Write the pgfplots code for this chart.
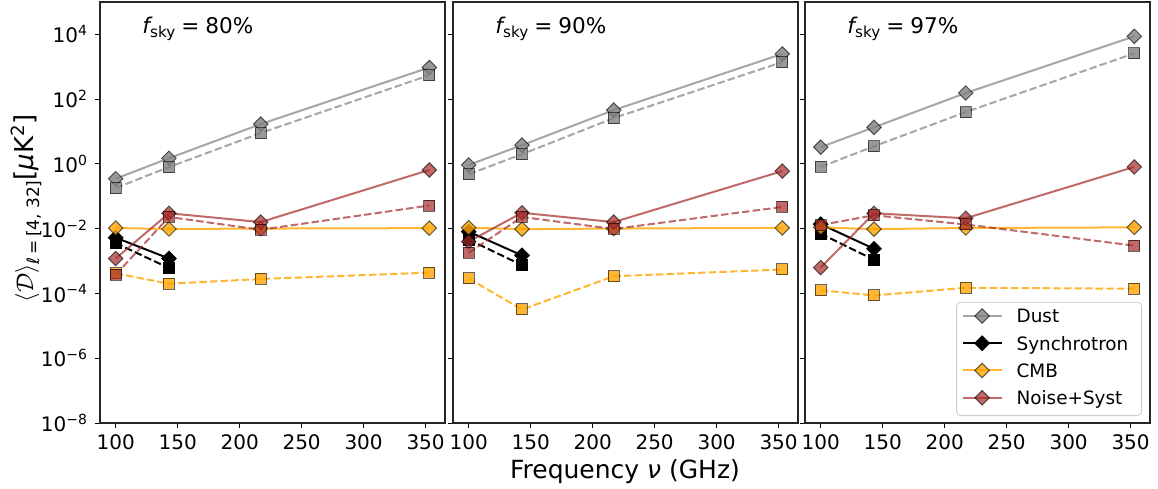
\documentclass[border=0pt]{standalone}
\usepackage{pgfplots}
\pgfplotsset{compat=1.18}
\usepackage{fontspec}
\setmainfont{DejaVu Sans}
\usetikzlibrary{plotmarks}
\definecolor{dustc}{HTML}{808080}
\definecolor{cmbc}{HTML}{FFA500}
\definecolor{noisec}{HTML}{A52A2A}
\pgfplotsset{
  mypanel/.style={
    scale only axis, width=172.5pt, height=210.5pt,
    xmin=87.35, xmax=365.65, ymin=1e-8, ymax=1e5,
    xtick={100,150,200,250,300,350},
    ytick={1e-8,1e-6,1e-4,1e-2,1,1e2,1e4},
    minor ytick={}, minor xtick={},
    tick pos=left, tick align=outside,
    major tick length=2.5pt,
    tick style={black, line width=0.5pt},
    axis line style={black!85, line width=0.6pt},
    tick label style={font=\fontsize{10}{12}\selectfont},
    clip=false,
  },
  dustD/.style={draw=dustc, draw opacity=0.7, line width=1pt, mark=square*, mark size=2.56pt,
    mark options={rotate=45, solid, fill=dustc, fill opacity=0.8, draw=black, draw opacity=0.6, line width=0.5pt}},
  dustS/.style={draw=dustc, draw opacity=0.7, line width=1pt, dash pattern=on 3.7pt off 1.6pt, mark=square*, mark size=2.75pt,
    mark options={solid, fill=dustc, fill opacity=0.8, draw=black, draw opacity=0.6, line width=0.5pt}},
  syncD/.style={draw=black, line width=1pt, mark=square*, mark size=2.56pt,
    mark options={rotate=45, solid, fill=black, draw=black, line width=0.5pt}},
  syncS/.style={draw=black, line width=1pt, dash pattern=on 3.7pt off 1.6pt, mark=square*, mark size=2.75pt,
    mark options={solid, fill=black, draw=black, line width=0.5pt}},
  cmbD/.style={draw=cmbc, draw opacity=0.8, line width=1pt, mark=square*, mark size=2.56pt,
    mark options={rotate=45, solid, fill=cmbc, fill opacity=0.8, draw=black, draw opacity=0.6, line width=0.5pt}},
  cmbS/.style={draw=cmbc, draw opacity=0.8, line width=1pt, dash pattern=on 3.7pt off 1.6pt, mark=square*, mark size=2.75pt,
    mark options={solid, fill=cmbc, fill opacity=0.8, draw=black, draw opacity=0.6, line width=0.5pt}},
  noiseD/.style={draw=noisec, draw opacity=0.7, line width=1pt, mark=square*, mark size=2.56pt,
    mark options={rotate=45, solid, fill=noisec, fill opacity=0.7, draw=black, draw opacity=0.6, line width=0.5pt}},
  noiseS/.style={draw=noisec, draw opacity=0.7, line width=1pt, dash pattern=on 3.7pt off 1.6pt, mark=square*, mark size=2.75pt,
    mark options={solid, fill=noisec, fill opacity=0.7, draw=black, draw opacity=0.6, line width=0.5pt}},
}
\newcommand{\fsky}[1]{\node[anchor=base west, inner sep=0pt, font=\fontsize{10.8}{13}\selectfont] at (rel axis cs:0.122,0.926)
  {{\itshape f}\raisebox{-2.3pt}{\fontsize{7.6}{9}\selectfont sky}\hspace{3pt}=\hspace{3pt}#1\%};}
\begin{document}
\begin{tikzpicture}
\path[use as bounding box] (0pt,0pt) rectangle (579pt,-244pt);

% ---------- Panel 1: fsky = 80% ----------
\begin{axis}[ymode=log, mypanel, /pgf/number format/assume math mode=true,
  at={(50pt,-211.5pt)}, anchor=south west,
  yticklabels={10\textsuperscript{−8},10\textsuperscript{−6},10\textsuperscript{−4},10\textsuperscript{−2},10\textsuperscript{0},10\textsuperscript{2},10\textsuperscript{4}}]
\addplot[dustD] coordinates {(100,0.35) (143,1.5) (217,17) (353,950)};
\addplot[dustS] coordinates {(100,0.18) (143,0.8) (217,9) (353,550)};
\addplot[syncD] coordinates {(100,5.3e-3) (143,1.2e-3)};
\addplot[syncS] coordinates {(100,3.6e-3) (143,6.1e-4)};
\addplot[cmbD] coordinates {(100,0.0105) (143,0.0098) (217,0.0101) (353,0.0104)};
\addplot[cmbS] coordinates {(100,4.2e-4) (143,2.0e-4) (217,2.8e-4) (353,4.4e-4)};
\addplot[noiseD] coordinates {(100,1.2e-3) (143,0.030) (217,0.016) (353,0.65)};
\addplot[noiseS] coordinates {(100,3.8e-4) (143,0.023) (217,0.0093) (353,0.052)};
\fsky{80}
\end{axis}

% ---------- Panel 2: fsky = 90% ----------
\begin{axis}[ymode=log, mypanel, /pgf/number format/assume math mode=true,
  at={(226.5pt,-211.5pt)}, anchor=south west, yticklabels={}]
\addplot[dustD] coordinates {(100,0.93) (143,3.8) (217,46) (353,2500)};
\addplot[dustS] coordinates {(100,0.48) (143,2.0) (217,26) (353,1400)};
\addplot[syncD] coordinates {(100,8.1e-3) (143,1.5e-3)};
\addplot[syncS] coordinates {(100,4.6e-3) (143,7.5e-4)};
\addplot[cmbD] coordinates {(100,0.0107) (143,0.0097) (217,0.0101) (353,0.0106)};
\addplot[cmbS] coordinates {(100,2.9e-4) (143,3.2e-5) (217,3.4e-4) (353,5.5e-4)};
\addplot[noiseD] coordinates {(100,4.0e-3) (143,0.031) (217,0.016) (353,0.60)};
\addplot[noiseS] coordinates {(100,1.8e-3) (143,0.023) (217,0.0098) (353,0.047)};
\fsky{90}
\end{axis}

% ---------- Panel 3: fsky = 97% ----------
\begin{axis}[ymode=log, mypanel, /pgf/number format/assume math mode=true,
  at={(402.5pt,-211.5pt)}, anchor=south west, yticklabels={},
  legend cell align=left,
  legend style={at={(1,0)}, anchor=south east, xshift=-4pt, yshift=3.5pt,
    draw=black!20, rounded corners=2pt, fill=white,
    inner xsep=2.5pt, inner ysep=3.25pt, row sep=4.3pt, column sep=0pt,
    font=\fontsize{9.2}{11}\selectfont,
    nodes={inner sep=0pt, text height=7pt, text depth=2.2pt, text width=60pt, align=left}},
  legend image code/.code={\path[draw=none,fill=none] (0pt,0pt) -- (27pt,0pt);
    \draw[sharp corners,mark repeat=2,mark phase=2,#1] plot coordinates {(0pt,1.1pt) (9.75pt,1.1pt) (19.5pt,1.1pt)};}]
\addplot[dustD] coordinates {(100,3.3) (143,13.5) (217,155) (353,8700)};
\addlegendentry{Dust}
\addplot[dustS, forget plot] coordinates {(100,0.81) (143,3.5) (217,40) (353,2600)};
\addplot[syncD] coordinates {(100,0.0138) (143,2.4e-3)};
\addlegendentry{Synchrotron}
\addplot[syncS, forget plot] coordinates {(100,7.0e-3) (143,1.1e-3)};
\addplot[cmbD] coordinates {(100,0.011) (143,0.0097) (217,0.0105) (353,0.011)};
\addlegendentry{CMB}
\addplot[cmbS, forget plot] coordinates {(100,1.25e-4) (143,8.7e-5) (217,1.5e-4) (353,1.4e-4)};
\addplot[noiseD] coordinates {(100,6.3e-4) (143,0.030) (217,0.021) (353,0.81)};
\addlegendentry{Noise+Syst}
\addplot[noiseS, forget plot] coordinates {(100,0.013) (143,0.026) (217,0.0135) (353,3.0e-3)};
\fsky{97}
\end{axis}

% ---------- shared labels ----------
\node[anchor=base, inner sep=0pt, font=\fontsize{12.5}{15}\selectfont] at (312.5pt,-239pt) {Frequency {\itshape ν} (GHz)};
\node[rotate=90, anchor=base, inner sep=0pt, font=\fontsize{13}{15}\selectfont] at (16.5pt,-104pt)
  {$\langle\mathcal{D}\rangle$\raisebox{-3pt}{\fontsize{8.5}{10}\selectfont{\itshape ℓ}\hspace{1.5pt}=\hspace{1.5pt}[4, 32]}[{\itshape μ}K\textsuperscript{2}]};
\end{tikzpicture}
\end{document}
